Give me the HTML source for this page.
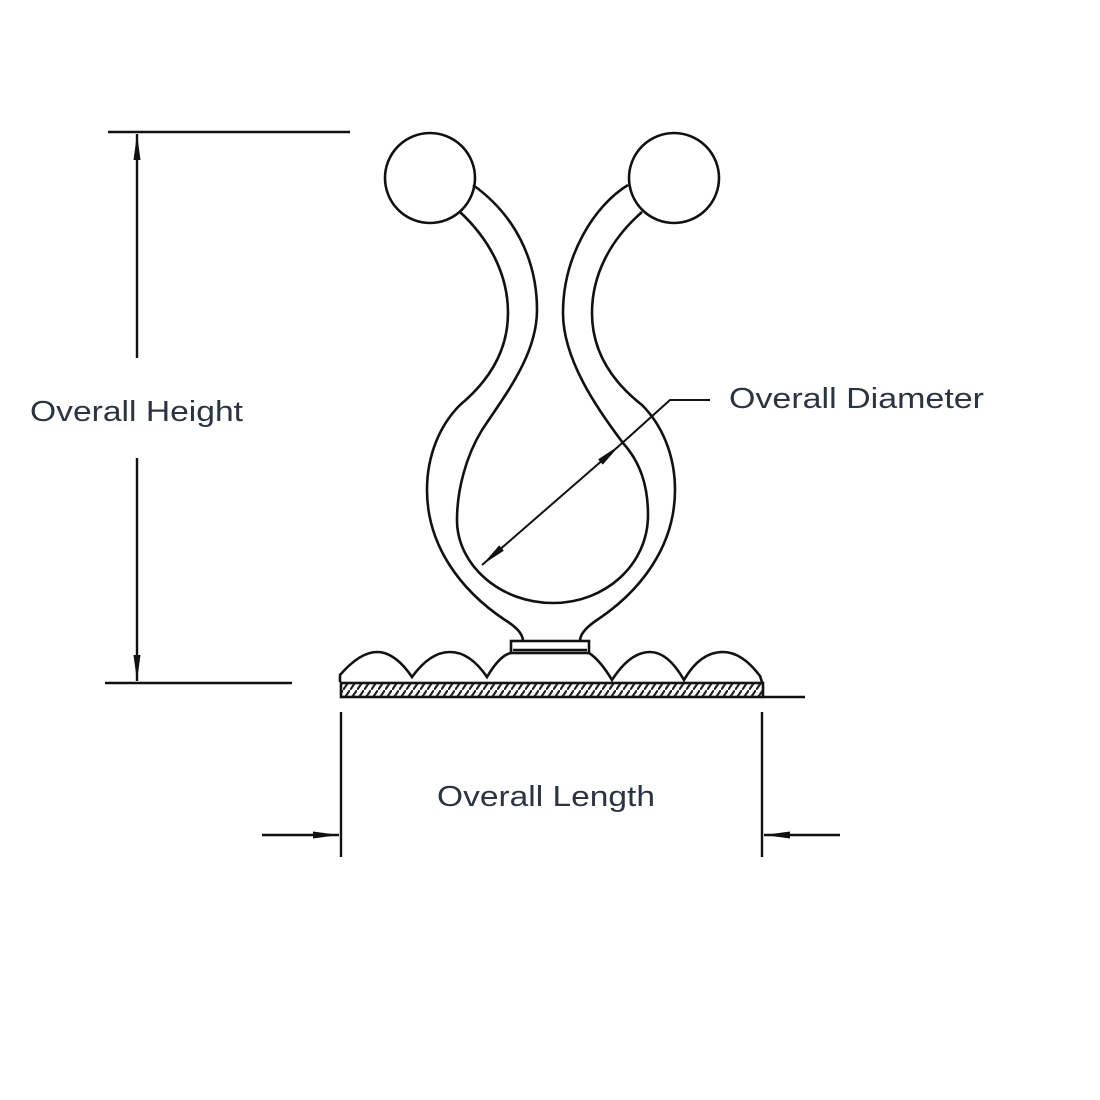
<!DOCTYPE html>
<html><head><meta charset="utf-8"><style>
html,body{margin:0;padding:0;background:#fff}
svg{display:block}
text{font-family:"Liberation Sans",sans-serif;fill:#2b3441;font-size:29px}
</style></head><body>
<svg width="1100" height="1100" viewBox="0 0 1100 1100" xmlns="http://www.w3.org/2000/svg">
<defs>
<pattern id="h" width="7" height="10" patternUnits="userSpaceOnUse">
<rect width="7" height="10" fill="#fff"/>
<line x1="0" y1="10" x2="7" y2="0" stroke="#222" stroke-width="2.2"/>
</pattern>
<marker id="a" markerWidth="26" markerHeight="10" refX="26" refY="5" orient="auto" markerUnits="userSpaceOnUse">
<path d="M0,1.5 L26,5 L0,8.5 Z" fill="#111"/>
</marker>
</defs>
<g fill="none" stroke="#111" stroke-width="2.6">
<circle cx="430" cy="178" r="45"/>
<circle cx="674" cy="178" r="45"/>
<path d="M473,185 C515,215 537,260 537,310 C537,355 505,395 482,430 C466,456 457,490 457,520 C457,565 500,603 553,603 C605,603 648,565 648,515 C648,485 640,462 623,443 C598,410 563,360 563,313 C563,255 595,205 628,185"/>
<path d="M460,212 C490,240 508,275 508,313 C508,350 490,380 460,405 C440,425 427,455 427,490 C427,545 460,590 505,620 C518,628 523,635 523,641"/>
<path d="M642,212 C610,240 592,275 592,313 C592,350 610,380 642,405 C662,425 675,455 675,490 C675,545 642,590 597,620 C585,628 580,635 580,641"/>
<rect x="511" y="641" width="78" height="12"/>
<line x1="513" y1="650" x2="587" y2="650"/>
<path d="M340,682 L340,675 Q360,652 377,652 Q395,652 412,677 Q430,652 450,652 Q470,652 487,677 Q500,655 511,653"/>
<path d="M589,653 Q600,660 612,680 Q630,652 650,652 Q668,652 684,680 Q700,652 723,652 Q742,652 760,676 L762,682"/>
<rect x="341" y="683" width="422" height="14" fill="url(#h)"/>
<line x1="763" y1="697" x2="805" y2="697"/>
</g>
<g stroke="#111" stroke-width="2.4" fill="none">
<line x1="108" y1="132" x2="350" y2="132"/>
<line x1="105" y1="683" x2="292" y2="683"/>
<line x1="137" y1="358" x2="137" y2="134" marker-end="url(#a)"/>
<line x1="137" y1="458" x2="137" y2="681" marker-end="url(#a)"/>
<line x1="341" y1="712" x2="341" y2="857"/>
<line x1="762" y1="712" x2="762" y2="857"/>
<line x1="262" y1="835" x2="339" y2="835" marker-end="url(#a)"/>
<line x1="840" y1="835" x2="764" y2="835" marker-end="url(#a)"/>
<line x1="551" y1="505" x2="482" y2="565" marker-end="url(#a)" stroke-width="2"/>
<line x1="551" y1="505" x2="620" y2="445" marker-end="url(#a)" stroke-width="2"/>
<polyline points="620,445 670,400 710,400" stroke-width="2"/>
</g>
<text x="30" y="421" textLength="213" lengthAdjust="spacingAndGlyphs">Overall Height</text>
<text x="729" y="408" textLength="255" lengthAdjust="spacingAndGlyphs">Overall Diameter</text>
<text x="437" y="806" textLength="218" lengthAdjust="spacingAndGlyphs">Overall Length</text>
</svg>
</body></html>
